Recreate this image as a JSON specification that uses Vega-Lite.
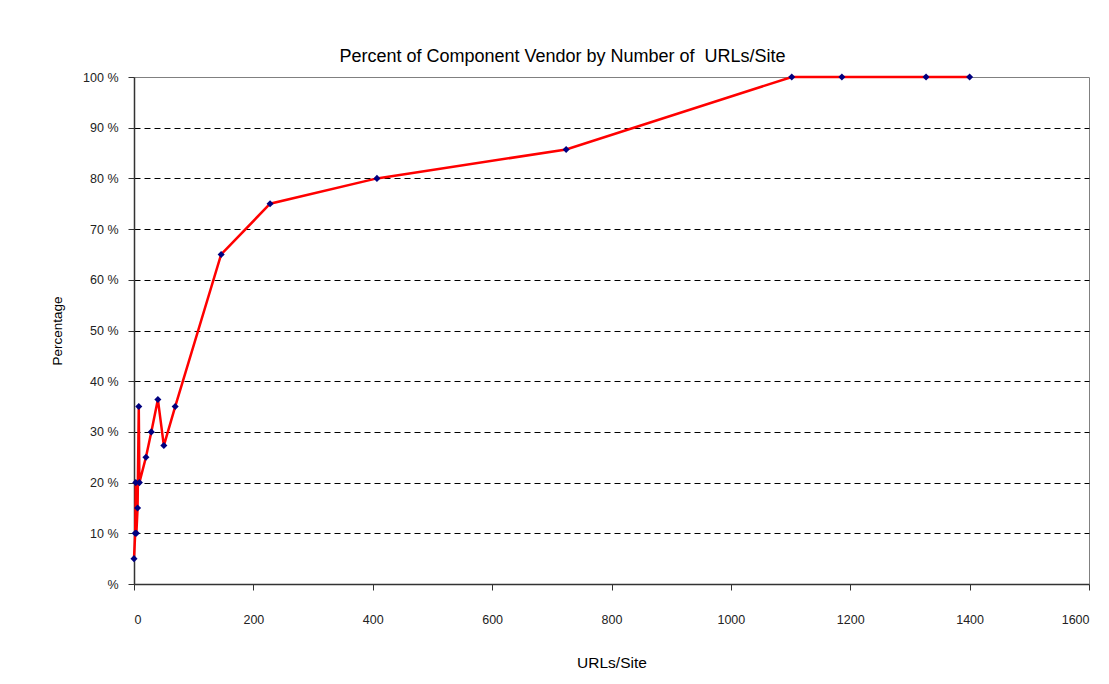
{
  "$schema": "https://vega.github.io/schema/vega-lite/v6.json",
  "autosize": {"type": "none"},
  "width": 955,
  "height": 507,
  "padding": {"left": 134, "top": 77, "right": 20, "bottom": 100},
  "background": "white",
  "title": {
    "text": "Percent of Component Vendor by Number of\u00a0 URLs/Site",
    "font": "Liberation Sans",
    "fontSize": 18,
    "fontWeight": "normal",
    "color": "#000000",
    "anchor": "middle",
    "dx": -49,
    "offset": 5
  },
  "config": {
    "view": {"stroke": "#808080", "strokeWidth": 1},
    "font": "Liberation Sans"
  },
  "data": {
    "values": [
      {"urls": 0, "pct": 5},
      {"urls": 2, "pct": 10},
      {"urls": 3, "pct": 20},
      {"urls": 4, "pct": 10},
      {"urls": 6, "pct": 15},
      {"urls": 8, "pct": 35},
      {"urls": 9, "pct": 20},
      {"urls": 20, "pct": 25},
      {"urls": 29, "pct": 30},
      {"urls": 40, "pct": 36.4},
      {"urls": 50, "pct": 27.3},
      {"urls": 69, "pct": 35},
      {"urls": 146, "pct": 65},
      {"urls": 228, "pct": 75},
      {"urls": 407, "pct": 80},
      {"urls": 724, "pct": 85.7},
      {"urls": 1102, "pct": 100},
      {"urls": 1186, "pct": 100},
      {"urls": 1327, "pct": 100},
      {"urls": 1400, "pct": 100}
    ]
  },
  "encoding": {
    "x": {
      "field": "urls",
      "type": "quantitative",
      "scale": {"domain": [0, 1600], "nice": false, "zero": false},
      "axis": {
        "values": [0, 200, 400, 600, 800, 1000, 1200, 1400, 1600],
        "format": "d",
        "title": "URLs/Site",
        "titleFont": "Liberation Sans",
        "titleFontSize": 15.5,
        "titleFontWeight": "normal",
        "titleColor": "#000000",
        "titlePadding": 30,
        "labelFont": "Liberation Sans",
        "labelFontSize": 12.5,
        "labelColor": "#222222",
        "labelPadding": 23,
        "domainColor": "#333333",
        "domainWidth": 1.5,
        "tickColor": "#333333",
        "tickSize": 6,
        "grid": false
      }
    },
    "y": {
      "field": "pct",
      "type": "quantitative",
      "scale": {"domain": [0, 100], "nice": false},
      "axis": {
        "values": [0, 10, 20, 30, 40, 50, 60, 70, 80, 90, 100],
        "labelExpr": "datum.value == 0 ? '%' : datum.value + ' %'",
        "title": "Percentage",
        "titleFont": "Liberation Sans",
        "titleFontSize": 13.5,
        "titleFontWeight": "normal",
        "titleColor": "#000000",
        "titlePadding": 18,
        "labelFont": "Liberation Sans",
        "labelFontSize": 12.5,
        "labelColor": "#222222",
        "labelPadding": 10,
        "domainColor": "#333333",
        "domainWidth": 1.5,
        "tickColor": "#333333",
        "tickSize": 6,
        "grid": true,
        "gridColor": "#000000",
        "gridDash": [6, 4],
        "gridWidth": 1,
        "gridOpacity": {"condition": {"test": "datum.value == 100 || datum.value == 0", "value": 0}, "value": 1}
      }
    }
  },
  "layer": [
    {
      "mark": {"type": "line", "color": "#FF0000", "strokeWidth": 2.5},
      "encoding": {"order": {"field": "urls", "type": "quantitative"}}
    },
    {
      "mark": {"type": "point", "shape": "diamond", "filled": true, "color": "#000080", "size": 50, "opacity": 1}
    }
  ]
}
